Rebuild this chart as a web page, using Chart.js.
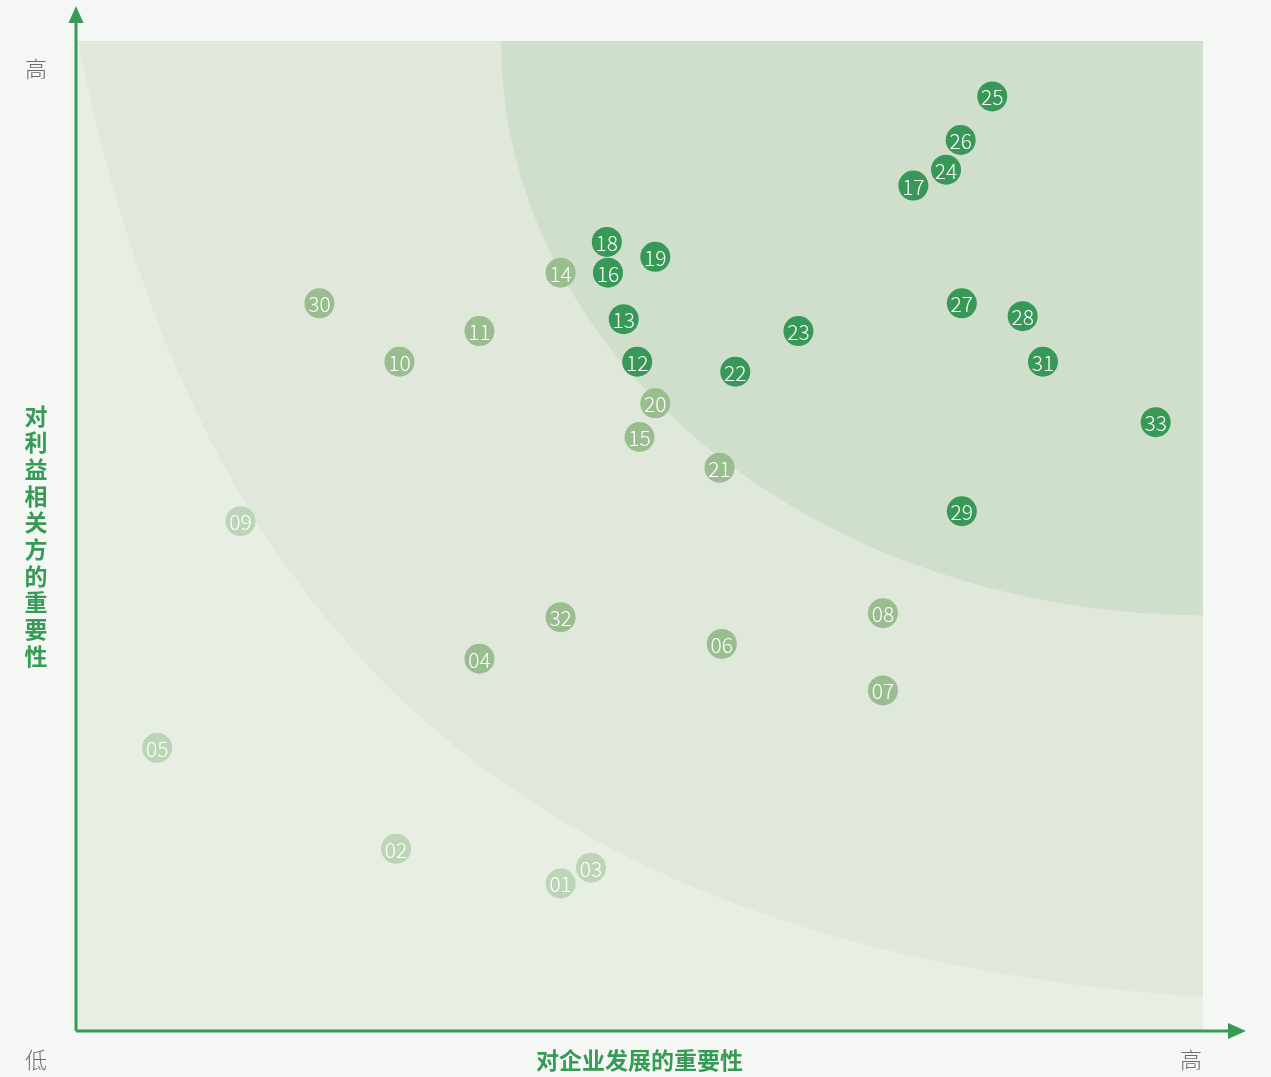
<!DOCTYPE html>
<html>
<head>
<meta charset="utf-8">
<script src="https://cdn.jsdelivr.net/npm/chart.js@4/dist/chart.umd.min.js"></script>
<style>
  html, body { margin: 0; padding: 0; background: #f5f7f4; }
  canvas { display: block; }
</style>
</head>
<body>
<canvas id="matrixChart" width="1271" height="1077"></canvas>
<script>
// issue numbers and where they sit (0-100 on both axes)
var issueLabels = ['01','02','03','04','05','06','07','08','09','10','11','12','13','14','15','16','17',
                   '18','19','20','21','22','23','24','25','26','27','28','29','30','31','32','33'];
var businessImportance = [43.0, 28.4, 45.7, 35.8, 7.2, 57.3, 71.6, 71.6, 14.6, 28.7, 35.8, 49.8, 48.6, 43.0, 50.0, 47.2, 74.3,
                          47.1, 51.4, 51.4, 57.1, 58.5, 64.1, 77.2, 81.3, 78.5, 78.6, 84.0, 78.6, 21.6, 85.8, 43.0, 95.8];
var stakeholderImportance = [14.9, 18.4, 16.5, 37.6, 28.6, 39.1, 34.4, 42.2, 51.5, 67.6, 70.7, 67.6, 71.9, 76.6, 60.0, 76.6, 85.4,
                             79.7, 78.2, 63.4, 56.9, 66.6, 70.7, 87.0, 94.4, 90.0, 73.5, 72.2, 52.5, 73.5, 67.6, 41.8, 61.5];
// 3 = high, 2 = medium, 1 = low
var issueLevel = [1, 1, 1, 2, 1, 2, 2, 2, 1, 2, 2, 3, 3, 2, 2, 3, 3,
                  3, 3, 2, 2, 3, 3, 3, 3, 3, 3, 3, 3, 2, 3, 2, 3];

var levelColors = { 1: '#bdd5b7', 2: '#99bd8f', 3: '#379857' };
var levelNames = { 1: 'low', 2: 'medium', 3: 'high' };

var datasets = [1, 2, 3].map(function (lvl) {
    var pts = [];
    for (var i = issueLabels.length - 1; i >= 0; i--) {
        if (issueLevel[i] === lvl) {
            pts.push({ x: businessImportance[i], y: stakeholderImportance[i], label: issueLabels[i] });
        }
    }
    return {
        label: levelNames[lvl],
        data: pts,
        backgroundColor: levelColors[lvl],
        borderWidth: 0,
        pointRadius: 15,
        pointHoverRadius: 15,
        clip: false
    };
});

var green = '#379a57';

// background zones behind the points
var zonesPlugin = {
    id: 'zones',
    beforeDatasetsDraw: function (chart) {
        var a = chart.chartArea, c = chart.ctx;
        var w = a.right - a.left, h = a.bottom - a.top;
        c.save();
        c.beginPath();
        c.rect(a.left, a.top, w, h);
        c.clip();
        c.fillStyle = '#e7efe4';
        c.fillRect(a.left, a.top, w, h);

        c.fillStyle = '#e0e8dc';
        c.beginPath();
        c.moveTo(a.left + 2, a.top);
        c.bezierCurveTo(a.left + 0.108 * w, a.top + 0.606 * h,
                        a.left + 0.397 * w, a.top + 0.917 * h,
                        a.right, a.top + 0.966 * h);
        c.lineTo(a.right, a.top);
        c.closePath();
        c.fill();

        c.fillStyle = '#d0dfcb';
        c.beginPath();
        c.ellipse(a.right, a.top, 0.623 * w, 0.58 * h, 0, 0, Math.PI * 2);
        c.fill();
        c.restore();
    }
};

// issue numbers on the bubbles
var labelsPlugin = {
    id: 'bubbleLabels',
    afterDatasetsDraw: function (chart) {
        var c = chart.ctx;
        c.save();
        c.fillStyle = '#ffffff';
        c.font = '300 21px "Noto Sans CJK SC", "Noto Sans", sans-serif';
        c.textAlign = 'center';
        c.textBaseline = 'middle';
        chart.data.datasets.forEach(function (ds, di) {
            chart.getDatasetMeta(di).data.forEach(function (el, i) {
                c.fillText(ds.data[i].label, el.x, el.y + 1);
            });
        });
        c.restore();
    }
};

// arrows and axis texts
var axesPlugin = {
    id: 'arrowAxes',
    afterDraw: function (chart) {
        var a = chart.chartArea, c = chart.ctx;
        c.save();
        c.strokeStyle = green;
        c.fillStyle = green;
        c.lineWidth = 3;
        c.beginPath();
        c.moveTo(a.left, a.bottom);
        c.lineTo(a.left, 20);
        c.moveTo(a.left, a.bottom);
        c.lineTo(1230, a.bottom);
        c.stroke();
        c.beginPath();
        c.moveTo(a.left, 6);
        c.lineTo(a.left - 7.5, 23);
        c.lineTo(a.left + 7.5, 23);
        c.closePath();
        c.fill();
        c.beginPath();
        c.moveTo(1246, a.bottom);
        c.lineTo(1228, a.bottom - 8);
        c.lineTo(1228, a.bottom + 8);
        c.closePath();
        c.fill();

        c.textAlign = 'center';
        c.textBaseline = 'middle';
        c.fillStyle = '#6b6b6b';
        c.font = '300 22px "Noto Sans CJK SC", sans-serif';
        c.fillText('高', 36, 69);
        c.fillText('低', 36, 1060);
        c.fillText('高', 1191, 1060);

        c.fillStyle = green;
        c.font = 'bold 23px "Noto Sans CJK SC", sans-serif';
        c.fillText('对企业发展的重要性', (a.left + a.right) / 2, 1060);
        var yTitle = '对利益相关方的重要性';
        var mid = (a.top + a.bottom) / 2;
        for (var i = 0; i < yTitle.length; i++) {
            c.fillText(yTitle[i], 36, mid + (i - (yTitle.length - 1) / 2) * 26.7);
        }
        c.restore();
    }
};

var ctx = document.getElementById('matrixChart').getContext('2d');
var chart = new Chart(ctx, {
    type: 'scatter',
    data: { datasets: datasets },
    options: {
        responsive: false,
        animation: false,
        layout: { padding: { left: 76, right: 68, top: 41, bottom: 46 } },
        scales: {
            x: { type: 'linear', min: 0, max: 100, display: false },
            y: { type: 'linear', min: 0, max: 100, display: false }
        },
        plugins: {
            legend: { display: false },
            tooltip: { enabled: false }
        }
    },
    plugins: [zonesPlugin, labelsPlugin, axesPlugin]
});
</script>
</body>
</html>
